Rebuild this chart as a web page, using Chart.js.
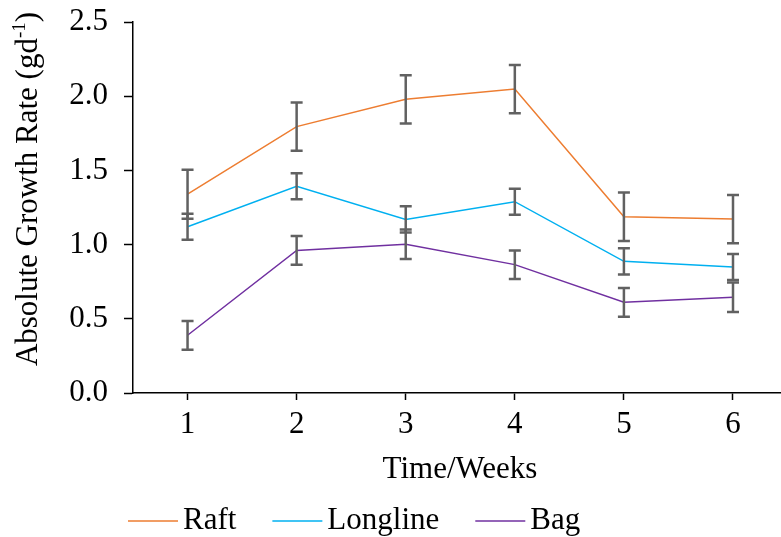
<!DOCTYPE html>
<html>
<head>
<meta charset="utf-8">
<script src="https://cdn.jsdelivr.net/npm/chart.js@4.4.0/dist/chart.umd.min.js"></script>
<style>
html,body{margin:0;padding:0;background:#fff;}
#wrap{width:781px;height:537px;position:relative;}
</style>
</head>
<body>
<div id="wrap"><canvas id="c" width="781" height="537"></canvas></div>
<script>
const weeks = [1, 2, 3, 4, 5, 6];
const raft = [1.34, 1.795, 1.979, 2.048, 1.188, 1.172];
const raftErr = [0.165, 0.163, 0.163, 0.163, 0.163, 0.163];
const longline = [1.12, 1.393, 1.170, 1.289, 0.887, 0.849];
const longlineErr = [0.088, 0.088, 0.088, 0.088, 0.088, 0.088];
const bag = [0.389, 0.961, 1.002, 0.865, 0.611, 0.645];
const bagErr = [0.097, 0.097, 0.099, 0.096, 0.097, 0.099];
const yTicks = [0, 0.5, 1.0, 1.5, 2.0, 2.5];

const FONT = '"Liberation Serif", "Times New Roman", serif';
const FS = 31;

function pts(vals){ return weeks.map((w,i)=>({x:w, y:vals[i]})); }

const errorBars = {
  id:'errorBars',
  afterDatasetsDraw(chart){
    const ctx = chart.ctx, xs = chart.scales.x, ys = chart.scales.y;
    ctx.save();
    ctx.strokeStyle = '#616161';
    ctx.lineWidth = 2.5;
    chart.data.datasets.forEach(ds=>{
      ds.data.forEach((p,i)=>{
        const e = ds.err[i];
        const x = xs.getPixelForValue(p.x);
        const y1 = ys.getPixelForValue(p.y + e);
        const y2 = ys.getPixelForValue(p.y - e);
        ctx.beginPath();
        ctx.moveTo(x, y1); ctx.lineTo(x, y2);
        ctx.moveTo(x-6, y1); ctx.lineTo(x+6, y1);
        ctx.moveTo(x-6, y2); ctx.lineTo(x+6, y2);
        ctx.stroke();
      });
    });
    ctx.restore();
  }
};

const texts = {
  id:'texts',
  afterDraw(chart){
    const ctx = chart.ctx, ca = chart.chartArea;
    ctx.save();
    ctx.fillStyle = '#000';
    // x title
    ctx.font = FS + 'px ' + FONT;
    ctx.textAlign = 'center';
    ctx.textBaseline = 'middle';
    ctx.fillText('Time/Weeks', (ca.left+ca.right)/2 + 3, 470);
    // y title with superscript
    ctx.translate(27, 189);
    ctx.rotate(-Math.PI/2);
    const main = 'Absolute Growth Rate (gd';
    const sup = '-1';
    const close = ')';
    ctx.font = FS + 'px ' + FONT;
    const wMain = ctx.measureText(main).width;
    const wClose = ctx.measureText(close).width;
    ctx.font = Math.round(FS*0.62) + 'px ' + FONT;
    const wSup = ctx.measureText(sup).width;
    const total = wMain + wSup + wClose;
    let x0 = -total/2;
    ctx.textAlign = 'left';
    ctx.textBaseline = 'alphabetic';
    ctx.font = FS + 'px ' + FONT;
    ctx.fillText(main, x0, 10);
    ctx.font = Math.round(FS*0.62) + 'px ' + FONT;
    ctx.fillText(sup, x0 + wMain, 10 - FS*0.38);
    ctx.font = FS + 'px ' + FONT;
    ctx.fillText(close, x0 + wMain + wSup, 10);
    ctx.restore();

    // legend
    ctx.save();
    ctx.font = FS + 'px ' + FONT;
    ctx.textBaseline = 'middle';
    ctx.textAlign = 'left';
    let lx = 128;
    const ly = 521;
    chart.data.datasets.forEach(ds=>{
      ctx.strokeStyle = ds.borderColor;
      ctx.lineWidth = 1.5;
      ctx.beginPath();
      ctx.moveTo(lx, ly); ctx.lineTo(lx+50, ly);
      ctx.stroke();
      ctx.fillStyle = '#000';
      ctx.fillText(ds.label, lx+55, ly);
      lx += 55 + ctx.measureText(ds.label).width + 36;
    });
    ctx.restore();
  }
};

new Chart(document.getElementById('c'), {
  type:'line',
  data:{
    datasets:[
      {label:'Raft', data:pts(raft), err:raftErr, borderColor:'#ED7D31', borderWidth:1.5, pointRadius:0, tension:0, fill:false},
      {label:'Longline', data:pts(longline), err:longlineErr, borderColor:'#00B0F0', borderWidth:1.5, pointRadius:0, tension:0, fill:false},
      {label:'Bag', data:pts(bag), err:bagErr, borderColor:'#7030A0', borderWidth:1.5, pointRadius:0, tension:0, fill:false}
    ]
  },
  options:{
    responsive:false,
    animation:false,
    events:[],
    layout:{padding:{top:22, right:0, left:0, bottom:0}},
    plugins:{legend:{display:false}, title:{display:false}, tooltip:{enabled:false}},
    scales:{
      x:{
        type:'linear', min:0.5, max:6.44,
        afterBuildTicks(s){ s.ticks = weeks.map(v=>({value:v})); },
        afterFit(s){ s.height = 144; s.paddingLeft = 0; s.paddingRight = 0; },
        grid:{drawOnChartArea:false, drawTicks:true, tickLength:7, tickColor:'#000', tickWidth:1.5},
        border:{display:true, color:'#000', width:1.5},
        ticks:{color:'#000', font:{family:FONT, size:FS}, padding:6, maxRotation:0, autoSkip:false}
      },
      y:{
        type:'linear', min:0, max:2.5,
        afterBuildTicks(s){ s.ticks = yTicks.map(v=>({value:v})); },
        afterFit(s){ s.width = 133; s.paddingTop = 0; s.paddingBottom = 0; },
        grid:{drawOnChartArea:false, drawTicks:true, tickLength:9, tickColor:'#000', tickWidth:1.5},
        border:{display:true, color:'#000', width:1.5},
        ticks:{color:'#000', font:{family:FONT, size:FS}, padding:16, callback:v=>v.toFixed(1)}
      }
    }
  },
  plugins:[errorBars, texts]
});
</script>
</body>
</html>
